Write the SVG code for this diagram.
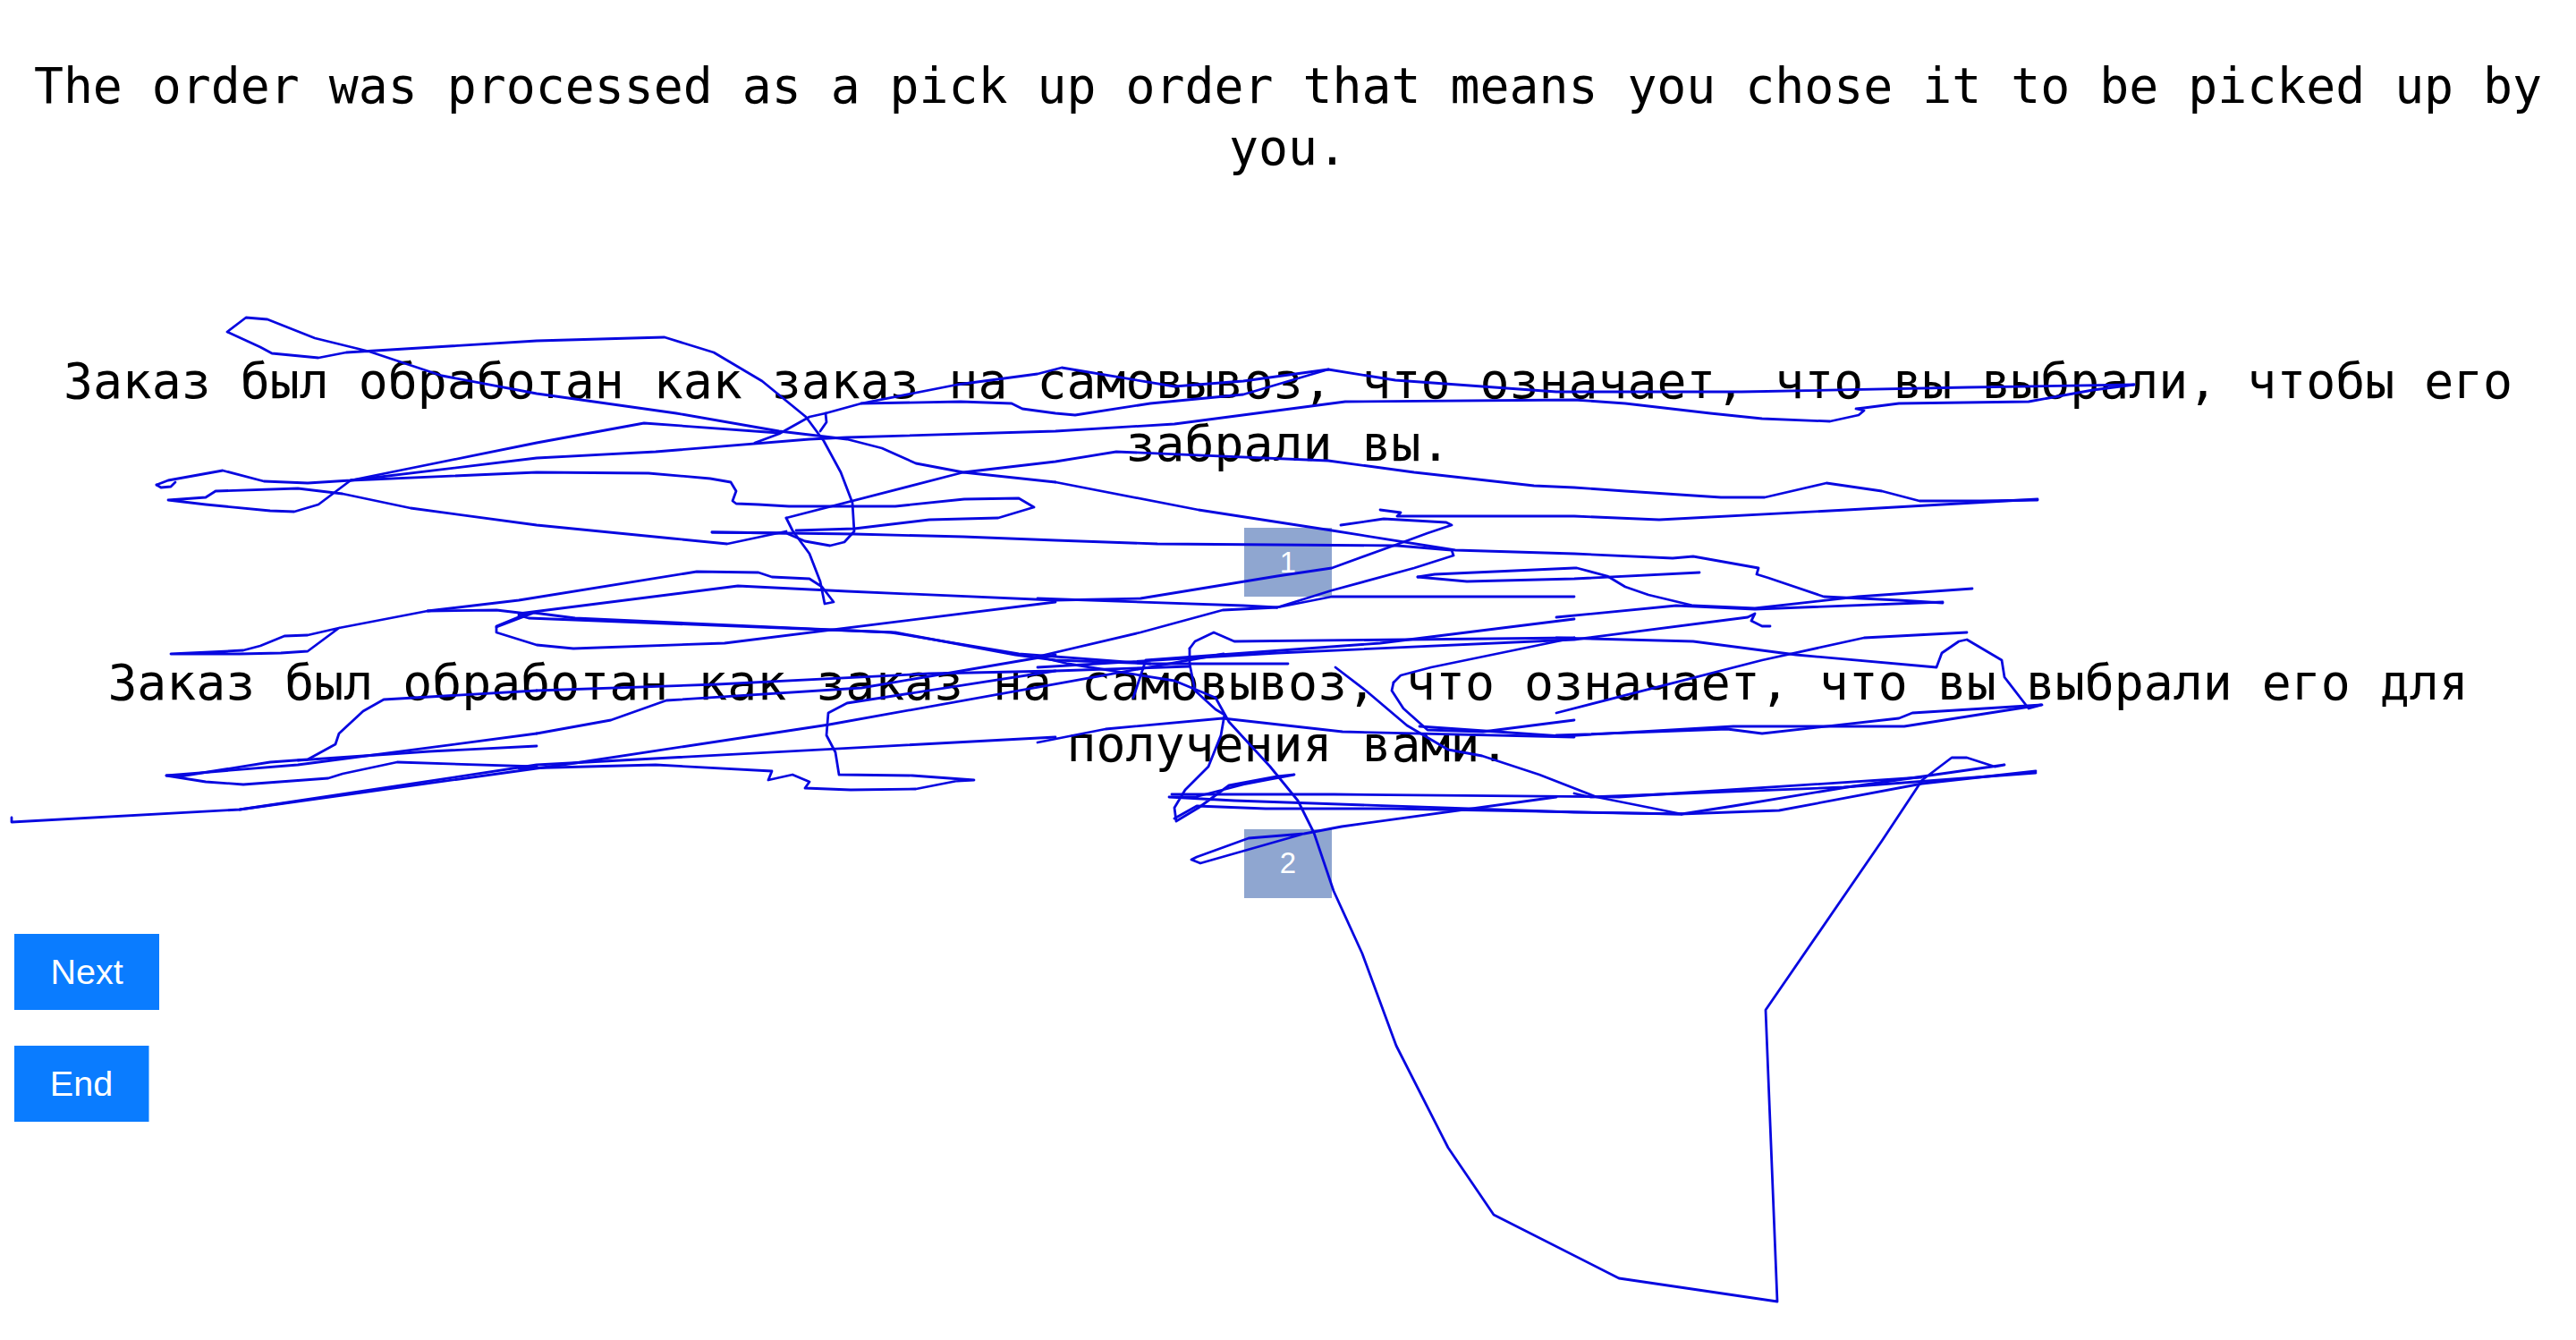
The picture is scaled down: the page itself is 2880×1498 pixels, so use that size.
<svg xmlns="http://www.w3.org/2000/svg" width="2880" height="1498" viewBox="0 0 2880 1498">
<style>
.t{font-family:"DejaVu Sans Mono","Liberation Mono",monospace;font-size:54.8px;fill:#000;text-anchor:middle}
.box{fill:#8fa6d0}
.num{font-family:"Liberation Sans",Arial,sans-serif;font-size:33px;fill:#fff;text-anchor:middle}
.btn{fill:#0a7cff}
.bt{font-family:"Liberation Sans",Arial,sans-serif;font-size:39.5px;fill:#fff;text-anchor:middle}
.ink{fill:none;stroke:#0808e0;stroke-width:2.8;stroke-linejoin:round;stroke-linecap:round}
</style>
<rect width="2880" height="1498" fill="#fff"/>
<g id="title">
<text class="t" x="1440" y="115">The order was processed as a pick up order that means you chose it to be picked up by</text>
<text class="t" x="1440" y="184">you.</text>
</g>
<g id="option1">
<text class="t" x="1440" y="445">Заказ был обработан как заказ на самовывоз, что означает, что вы выбрали, чтобы его</text>
<text class="t" x="1440" y="515">забрали вы.</text>
<rect class="box" x="1391" y="590" width="98" height="77"/>
<text class="num" x="1440" y="640">1</text>
</g>
<g id="option2">
<text class="t" x="1440" y="782">Заказ был обработан как заказ на самовывоз, что означает, что вы выбрали его для</text>
<text class="t" x="1440" y="851">получения вами.</text>
<rect class="box" x="1391" y="927" width="98" height="77"/>
<text class="num" x="1440" y="976">2</text>
</g>
<g id="next">
<rect class="btn" x="16" y="1044" width="162" height="85"/>
<text class="bt" x="97" y="1100">Next</text>
</g>
<g id="end">
<rect class="btn" x="16" y="1169" width="150.5" height="85"/>
<text class="bt" x="91" y="1225">End</text>
</g>
<g id="scribble" class="ink">
<polyline points="1180,539 1077,528 1024,518 986,501 947,491 871,482 756,462 600,440 494,420 413,393 352,378 299,357 275,355 254,371 291,388 304,395 356,400 387,394 600,381 706,378 743,377 798,394 852,426 901,466 921,493 940,528 953,562 955,594 944,606 928,610 900,605 879,596 796,595"/>
<polyline points="1180,539 1340,570 1489,593 1627,615 1760,619 1870,624 1893,622 1966,635 1964,642 1977,646 2039,667 2123,671 2172,674"/>
<polyline points="175,542 188,537 249,526 295,538 344,540 392,537 600,512 733,505 905,491 947,489 1180,482 1313,474 1504,449 1760,447 1817,451 1912,462 1970,468 2046,471 2078,464 2084,459 2075,457 2084,456 2123,451 2268,449 2340,436 2386,430"/>
<polyline points="2386,430 2200,433 1947,438 1740,438 1560,425 1485,413 1390,426 1313,432 1187,411 1160,418 1070,430 963,451 923,462 905,466 871,485 844,495"/>
<polyline points="923,462 924,472 917,482"/>
<polyline points="963,451 1074,449 1131,451 1143,457 1180,462 1202,464 1286,451 1390,441 1485,413"/>
<polyline points="871,484 720,473 600,495 392,537 356,564 329,572 302,571 230,564 188,559 230,556 241,549 333,546 383,552 459,568 600,587 752,602 813,608 879,594"/>
<polyline points="175,542 180,545 191,544 196,539"/>
<polyline points="392,537 600,528 725,529 794,535 817,539 823,549 819,560 823,563 848,564 882,566 955,566 1001,566 1078,558 1139,557 1156,567 1116,579 1039,581 955,591 890,593"/>
<polyline points="879,579 1077,528 1180,516 1248,505 1485,515 1581,528 1715,543 1760,545 1817,549 1924,556 1973,556 2042,540 2104,549 2146,560 2215,560 2278,559"/>
<polyline points="1543,570 1566,573 1562,577 1760,577 1855,581 2065,570 2278,558"/>
<polyline points="879,579 886,593 905,619 917,650 922,675 932,673 919,656 905,647 863,645 848,640 779,639 580,671 478,683 379,702 344,728 314,730 268,731 191,731 272,727 291,722 318,711 344,710 379,702"/>
<polyline points="478,683 555,682 589,686 555,700 555,707 600,721 641,725 810,719 1180,673"/>
<polyline points="555,701 597,685 643,691 996,707 1139,731 1286,742 1440,742"/>
<polyline points="796,595 879,596 955,597 1077,600 1180,604 1294,608 1562,610 1623,615 1625,621 1581,635 1489,660 1428,679 1390,677 1160,669"/>
<polyline points="1428,679 1489,667 1760,667"/>
<polyline points="580,686 825,655 947,661 1180,671 1275,669 1428,644 1489,635 1558,610 1596,596 1623,587 1617,584 1547,580 1499,587"/>
<polyline points="1585,645 1604,642 1760,635 1763,635 1797,644 1817,656 1843,665 1893,677 1962,680 2077,667 2205,658"/>
<polyline points="1585,645 1640,650 1760,647 1900,640"/>
<polyline points="1740,690 1874,677 1962,681 2172,673"/>
<polyline points="580,688 591,691 924,704 1001,707 1135,732 1180,738 1286,742"/>
<polyline points="1160,734 1275,707 1367,682 1428,679"/>
<polyline points="1160,746 1428,730 1760,715 1954,690 1962,686 1958,694 1970,700 1979,700"/>
<polyline points="1740,713 1893,717 2008,732 2165,746 2171,730 2190,717 2199,715 2238,738 2241,757 2268,792 2283,788 2138,797 2123,803 1970,820 1931,815 1740,822"/>
<polyline points="1740,797 1970,738 2084,713 2199,707"/>
<polyline points="1330,725 1336,717 1357,707 1380,717 1760,713"/>
<polyline points="1330,725 1330,742 1336,772 1359,793 1369,799 1365,822 1351,857 1325,883 1313,903 1315,918 1340,903 1374,878 1428,868 1447,866 1420,871 1390,877 1336,891 1307,891 1380,895 1760,908 1878,910 1989,906 2149,876 2276,862"/>
<polyline points="1359,780 1374,807 1420,857 1451,895 1469,931 1491,996 1523,1066 1561,1169 1619,1283 1670,1358 1810,1429 1987,1455 1974,1129 2104,940 2149,872 2182,847 2199,847 2230,857 2241,855 2065,880 1938,901 1880,910"/>
<polyline points="1493,746 1527,772 1573,811 1619,838 1657,845 1721,866 1785,891 1880,910"/>
<polyline points="1760,887 1778,891 2061,880 2276,864"/>
<polyline points="1558,763 1556,772 1569,792 1596,816 1658,818 1760,805"/>
<polyline points="1558,763 1566,755 1600,746 1760,713"/>
<polyline points="1587,812 1746,823 1938,812 2129,812 2282,788"/>
<polyline points="1310,888 1491,888 1810,891 2148,869"/>
<polyline points="1313,915 1338,901 1415,904 1555,904 1880,910"/>
<polyline points="1267,780 1281,738 1543,719 1760,692"/>
<polyline points="1160,734 1194,742 1313,761 1359,780"/>
<polyline points="1160,830 1236,815 1367,803 1501,818 1760,824"/>
<polyline points="1458,932 1396,937 1338,958 1332,961 1342,965 1458,932 1500,924 1740,891"/>
<polyline points="600,772 429,782 406,795 379,820 375,832 344,849 302,852 207,867 186,867 230,874 272,877 367,870 383,865 444,852 600,857"/>
<polyline points="186,867 333,855 600,820"/>
<polyline points="600,834 480,840 333,850"/>
<polyline points="13,914 13,919 268,905 600,855 1180,824"/>
<polyline points="268,905 643,853 927,810 1368,731"/>
<polyline points="600,772 802,765 1039,753 1180,750 1330,745"/>
<polyline points="600,820 683,805 745,783 963,769 1180,732"/>
<polyline points="580,859 733,855 863,862 859,872 886,866 905,874 900,881 951,883 1024,882 1070,873 1089,872 1020,867 938,866 934,841 924,822 926,797 947,786 1180,750"/>
</g>
</svg>
